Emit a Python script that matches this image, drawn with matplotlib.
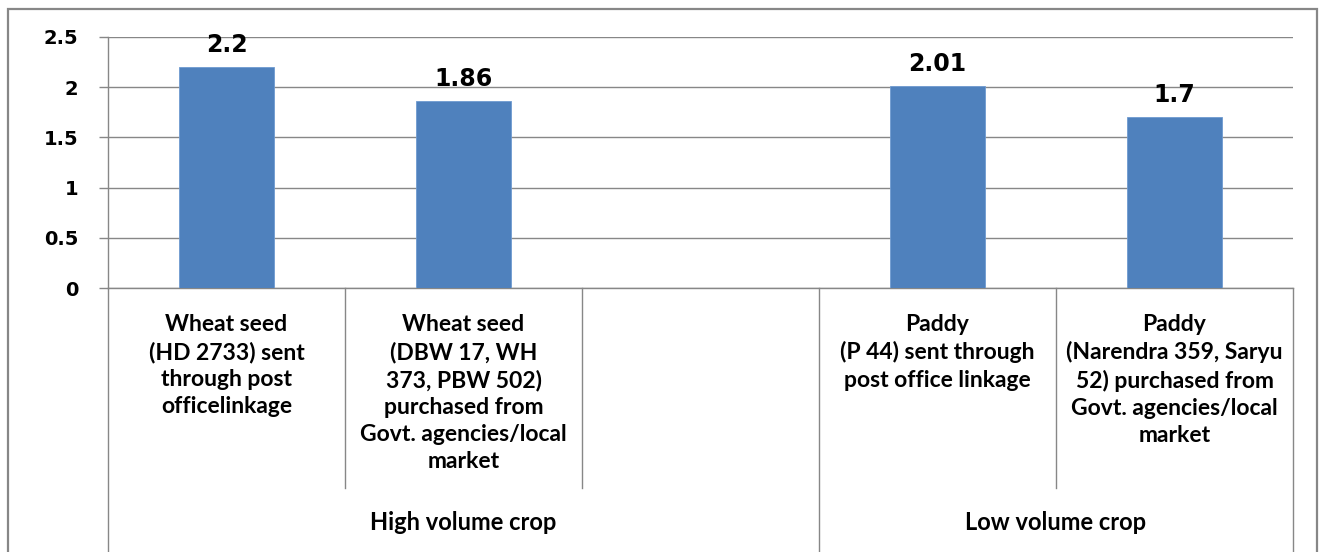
import matplotlib.pyplot as plt
from matplotlib.patches import Rectangle
from matplotlib.transforms import blended_transform_factory

# five category slots, the third one is left empty in the high volume group
categories = [
    'Wheat seed\n(HD 2733) sent\nthrough post\nofficelinkage',
    'Wheat seed\n(DBW 17, WH\n373, PBW 502)\npurchased from\nGovt. agencies/local\nmarket',
    '',
    'Paddy\n(P 44) sent through\npost office linkage',
    'Paddy\n(Narendra 359, Saryu\n52) purchased from\nGovt. agencies/local\nmarket',
]
values = [2.2, 1.86, None, 2.01, 1.7]
groups = ['High volume crop', 'Low volume crop']
group_sizes = [3, 2]
yticks = [0, 0.5, 1, 1.5, 2, 2.5]
ytick_labels = ['0', '0.5', '1', '1.5', '2', '2.5']

bar_color = '#4F81BD'
line_color = '#878787'

W, H = 1324, 552
fig = plt.figure(figsize=(W / 100, H / 100), dpi=100)
ax = fig.add_axes([108 / W, 1 - 288 / H, (1293 - 108) / W, (288 - 37) / H])

for i, v in enumerate(values):
    if v is None:
        continue
    ax.bar(i + 0.5, v, width=0.4, color=bar_color, edgecolor='#6f9bd0', linewidth=0.6, zorder=3)
    ax.annotate(str(v), (i + 0.5, v), xytext=(0, 16), textcoords='offset points',
                ha='center', va='center', fontsize=17, fontweight='bold',
                family='DejaVu Sans', color='black')

ax.set_xlim(0, len(categories))
ax.set_ylim(0, 2.5)
ax.set_yticks(yticks)
ax.set_yticklabels(ytick_labels, fontsize=14, fontweight='bold', family='DejaVu Sans')
ax.tick_params(axis='y', length=6.5, width=1, color=line_color, pad=15)
ax.set_xticks([])
ax.grid(axis='y', color=line_color, linewidth=1, zorder=0)
for side in ['top', 'right']:
    ax.spines[side].set_visible(False)
for side in ['left', 'bottom']:
    ax.spines[side].set_color(line_color)
    ax.spines[side].set_linewidth(1)

# two-level category axis below the plot
trans = blended_transform_factory(ax.transData, ax.transAxes)
short_depth = (288 - 488) / (288 - 37)
long_depth = (288 - 560) / (288 - 37)

group_edges = [0]
for n in group_sizes:
    group_edges.append(group_edges[-1] + n)

for b in range(len(categories) + 1):
    depth = long_depth if b in group_edges else short_depth
    ax.plot([b, b], [0, depth], color=line_color, linewidth=1,
            transform=trans, clip_on=False)

label_top = (288 - 314) / (288 - 37)
for i, label in enumerate(categories):
    ax.text(i + 0.5, label_top, label, transform=trans, ha='center', va='top',
            fontsize=16.5, fontweight='bold', family='Lato', linespacing=1.355,
            multialignment='center')

group_y = (288 - 523) / (288 - 37)
for g, name in enumerate(groups):
    center = (group_edges[g] + group_edges[g + 1]) / 2
    ax.text(center, group_y, name, transform=trans, ha='center', va='center',
            fontsize=17, fontweight='bold', family='Lato')

# chart frame
fig.add_artist(Rectangle((8 / W, -0.05), (1317 - 8) / W, 1.05 - 9 / H,
                         transform=fig.transFigure, fill=False,
                         edgecolor=line_color, linewidth=1.6))

fig.savefig('out.png', dpi=100)
